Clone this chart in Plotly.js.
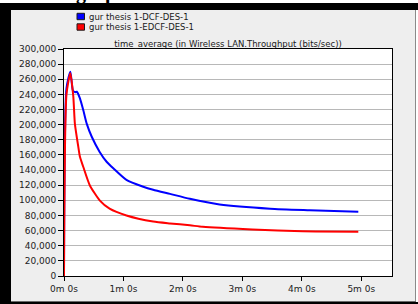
<!DOCTYPE html>
<html>
<head>
<meta charset="utf-8">
<script src="https://cdn.plot.ly/plotly-3.0.1.min.js"></script>
<style>
  html, body { margin:0; padding:0; width:418px; height:304px; overflow:hidden; background:#ffffff; position:relative; }
  #head { position:absolute; left:76px; top:-18px; font-family:"Liberation Serif", serif; font-weight:bold; font-size:20px; line-height:20px; color:#000; white-space:nowrap; }
  #frameTop { position:absolute; left:0; top:3px; width:418px; height:7px; background:#000; }
  #frameLeft { position:absolute; left:0; top:3px; width:11px; height:301px; background:#000; }
  #frameBottom { position:absolute; left:0; top:302px; width:418px; height:2px; background:#000; }
  #chart { position:absolute; left:11px; top:10px; width:405px; height:292px; }
  #edgeR { position:absolute; left:415px; top:10px; width:1px; height:292px; background:#8a8a8a; }
  #edgeB { position:absolute; left:11px; top:301px; width:405px; height:1px; background:#6a6a6a; }
</style>
</head>
<body>
<div id="head">graph</div>
<div id="frameTop"></div>
<div id="frameLeft"></div>
<div id="frameBottom"></div>
<div id="chart"></div>
<div id="edgeR"></div>
<div id="edgeB"></div>
<script>
// ---- data (time in seconds, throughput in bits/sec) ----
var seriesNames = ["gur thesis 1-DCF-DES-1", "gur thesis 1-EDCF-DES-1"];
var seriesColors = ["#0000ff", "#ff0000"];

var dcfTime = [0, 2.5, 6.4, 9, 11, 13, 16, 19.5, 23, 28, 36, 43, 50, 63, 80, 90, 107, 127, 157, 208, 248, 297];
var dcfThroughput = [0, 248000, 270000, 245000, 243000, 243500, 235000, 219000, 201000, 184000, 164000, 151000, 142000, 127000, 118000, 114000, 108500, 102000, 94500, 89000, 87000, 85000];

var edcfTime = [0, 2.5, 6.4, 9.4, 11, 14.4, 16.1, 19.5, 26, 36, 46, 63, 90, 107, 127, 140, 190, 241, 297];
var edcfThroughput = [0, 240000, 268000, 237000, 201000, 171000, 157500, 144000, 120000, 100000, 89000, 80000, 72000, 69500, 67000, 65000, 61500, 59000, 58500];

var xTickVals = [0, 60, 120, 180, 240, 300];
var xTickText = ["0m 0s", "1m 0s", "2m 0s", "3m 0s", "4m 0s", "5m 0s"];
var chartTitle = "time_average (in Wireless LAN.Throughput (bits/sec))";

// ---- layout geometry ----
var W = 405, H = 292;
var M = { l: 53, r: 24, t: 39, b: 26 };
var plotW = W - M.l - M.r, plotH = H - M.t - M.b;
function px2x(px) { return (px - M.l) / plotW; }
function py2y(py) { return (H - M.b - py) / plotH; }

var traces = [
  { x: dcfTime, y: dcfThroughput, name: seriesNames[0], type: "scatter", mode: "lines",
    line: { color: seriesColors[0], width: 2, shape: "spline", smoothing: 0.6 }, showlegend: false, hoverinfo: "none" },
  { x: edcfTime, y: edcfThroughput, name: seriesNames[1], type: "scatter", mode: "lines",
    line: { color: seriesColors[1], width: 2, shape: "spline", smoothing: 0.6 }, showlegend: false, hoverinfo: "none" }
];

// legend drawn as squares + labels (compact like the original)
var legendRows = [6.5, 17];
var shapes = [], annotations = [];
seriesNames.forEach(function (nm, i) {
  var cy = legendRows[i];
  shapes.push({ type: "rect", xref: "paper", yref: "paper",
    x0: px2x(66), x1: px2x(73.5), y0: py2y(cy + 3.2), y1: py2y(cy - 3.2),
    fillcolor: seriesColors[i], line: { color: "#1a1a1a", width: 1 } });
  annotations.push({ text: nm, xref: "paper", yref: "paper", x: px2x(75.5), y: py2y(cy),
    xanchor: "left", yanchor: "middle", showarrow: false,
    font: { family: "DejaVu Sans", size: 8.5, color: "#1a1a1a" } });
});

var layout = {
  width: W, height: H,
  margin: M,
  paper_bgcolor: "#eeeeee",
  plot_bgcolor: "#ffffff",
  showlegend: false,
  title: { text: chartTitle, x: 0.5, xref: "paper", xanchor: "center",
           y: 1 - 34 / H, yref: "container", yanchor: "middle",
           font: { family: "DejaVu Sans", size: 8.5, color: "#1a1a1a" } },
  xaxis: {
    range: [0, 331], tickmode: "array", tickvals: xTickVals, ticktext: xTickText,
    ticks: "outside", ticklen: 4, tickcolor: "#000", tickwidth: 1,
    showline: true, linecolor: "#000", linewidth: 1, mirror: true,
    showgrid: false, zeroline: false,
    tickfont: { family: "DejaVu Sans", size: 9, color: "#222" }
  },
  yaxis: {
    range: [0, 300000], dtick: 20000, tickformat: ",d",
    ticks: "outside", ticklen: 5, tickcolor: "#000", tickwidth: 1,
    showline: true, linecolor: "#000", linewidth: 1, mirror: true,
    showgrid: true, gridcolor: "#b8b8b8", gridwidth: 1, zeroline: false,
    tickfont: { family: "DejaVu Sans", size: 9, color: "#222" }
  },
  shapes: shapes,
  annotations: annotations
};

Plotly.newPlot("chart", traces, layout, { staticPlot: true, displayModeBar: false });
</script>
</body>
</html>
